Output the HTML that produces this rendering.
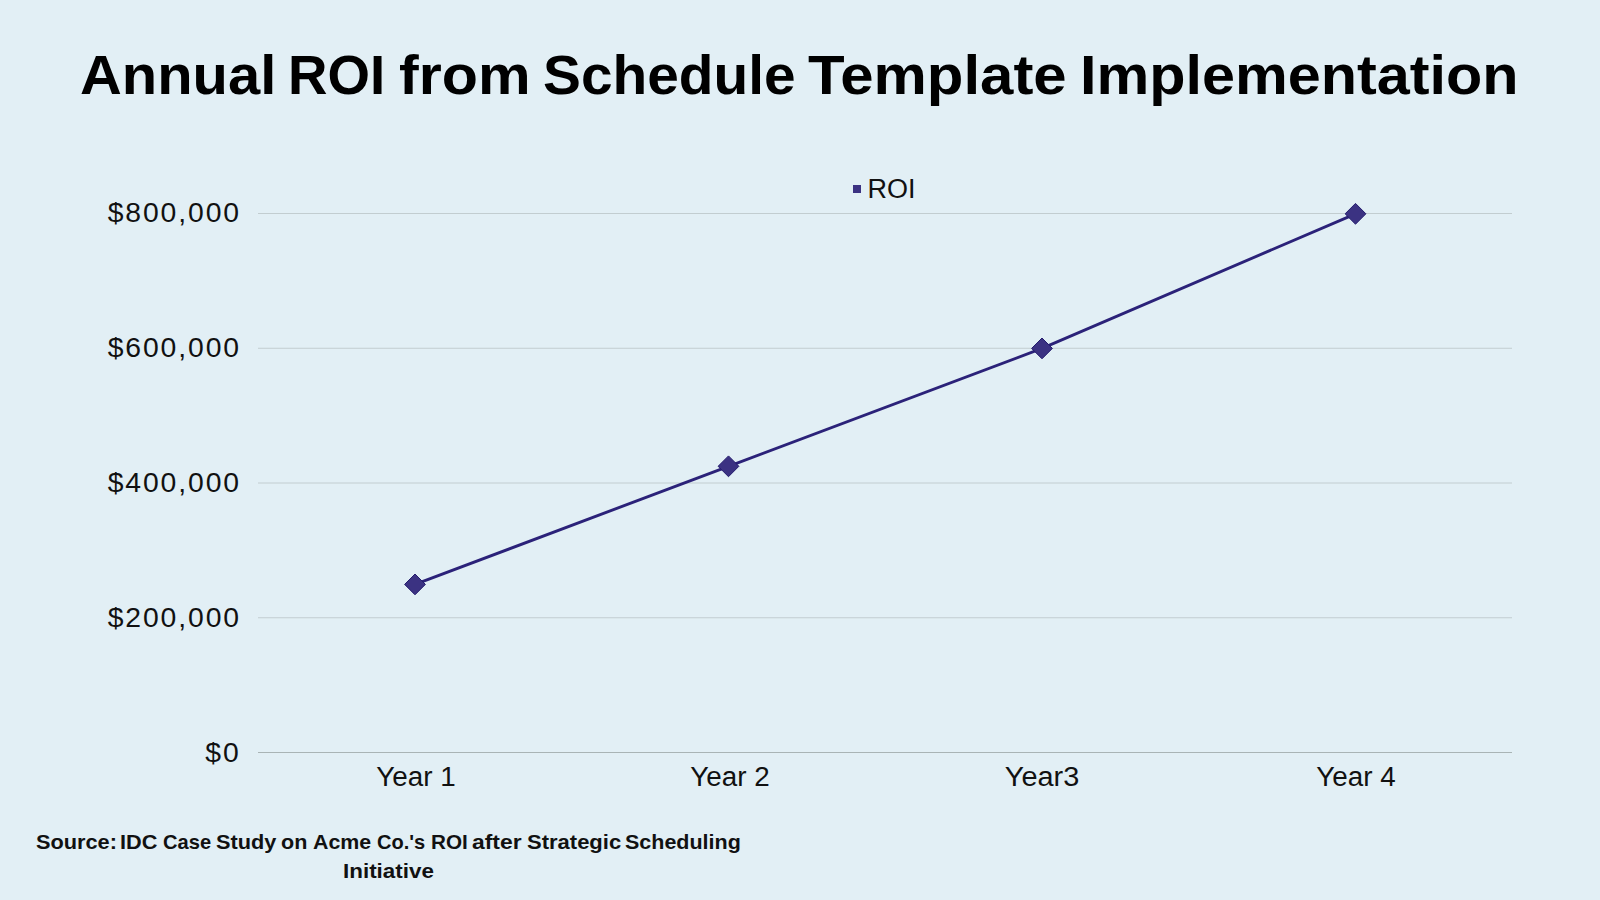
<!DOCTYPE html>
<html>
<head>
<meta charset="utf-8">
<style>
html,body{margin:0;padding:0;background:#E2EFF5;}
body{width:1600px;height:900px;overflow:hidden;background:#E2EFF5;position:relative;font-family:"Liberation Sans",sans-serif;color:#000;}
.t{position:absolute;white-space:nowrap;line-height:1;}
.tw{position:absolute;top:48px;font-size:55px;font-weight:bold;line-height:1;white-space:nowrap;transform-origin:0 0;color:#000;}
.yl{position:absolute;right:1359px;font-size:27px;line-height:1;transform-origin:100% 50%;transform:scaleX(1.05);letter-spacing:1.8px;color:#111;}
.xl{position:absolute;font-size:27px;line-height:1;width:200px;text-align:center;color:#111;transform:scaleX(1.03);}
#legend{left:867.5px;top:176px;font-size:27px;color:#111;transform:scaleX(1.0);transform-origin:0 0;}
.sw{position:absolute;font-size:20.5px;font-weight:bold;line-height:29px;white-space:nowrap;transform-origin:0 0;color:#111;top:827px;}
.sw2{top:856px;}
</style>
</head>
<body>
<div class="tw" style="left:80.39px;transform:scaleX(1.0528)">Annual</div>
<div class="tw" style="left:287.63px;transform:scaleX(0.9933)">ROI</div>
<div class="tw" style="left:398.92px;transform:scaleX(1.0763)">from</div>
<div class="tw" style="left:542.93px;transform:scaleX(1.0332)">Schedule</div>
<div class="tw" style="left:807.91px;transform:scaleX(1.0897)">Template</div>
<div class="tw" style="left:1079.68px;transform:scaleX(1.0789)">Implementation</div>

<svg width="1600" height="900" style="position:absolute;left:0;top:0">
  <g stroke="#C2CDD0" stroke-width="1">
    <line x1="258" y1="213.5" x2="1512" y2="213.5"/>
    <line x1="258" y1="348.25" x2="1512" y2="348.25"/>
    <line x1="258" y1="483" x2="1512" y2="483"/>
    <line x1="258" y1="617.75" x2="1512" y2="617.75"/>
  </g>
  <line x1="258" y1="752.5" x2="1512" y2="752.5" stroke="#A9B4B5" stroke-width="1"/>
  <polyline fill="none" stroke="#2B2279" stroke-width="2.9" stroke-linejoin="round" points="415,584.4 728.5,466.3 1042,348.4 1355.5,213.8"/>
  <g fill="#3B3282" stroke="#241C6E" stroke-width="1" stroke-linejoin="miter">
    <polygon points="415,574 425.4,584.4 415,594.8 404.6,584.4"/>
    <polygon points="728.5,455.9 738.9,466.3 728.5,476.7 718.1,466.3"/>
    <polygon points="1042,338 1052.4,348.4 1042,358.8 1031.6,348.4"/>
    <polygon points="1355.5,203.4 1365.9,213.8 1355.5,224.2 1345.1,213.8"/>
  </g>
  <rect x="853" y="185" width="8" height="8" fill="#3B3282"/>
</svg>

<div id="legend" class="t">ROI</div>

<div class="yl" style="top:200px">$800,000</div>
<div class="yl" style="top:335px">$600,000</div>
<div class="yl" style="top:470px">$400,000</div>
<div class="yl" style="top:605px">$200,000</div>
<div class="yl" style="top:740px">$0</div>

<div class="xl" style="left:316px;top:764px">Year 1</div>
<div class="xl" style="left:629.5px;top:764px">Year 2</div>
<div class="xl" style="left:942px;top:764px;transform:scaleX(1.07)">Year3</div>
<div class="xl" style="left:1256px;top:764px">Year 4</div>

<div class="sw" style="left:35.94px;transform:scaleX(1.0603)">Source:</div>
<div class="sw" style="left:119.54px;transform:scaleX(1.0588)">IDC</div>
<div class="sw" style="left:162.62px;transform:scaleX(0.9809)">Case</div>
<div class="sw" style="left:215.64px;transform:scaleX(1.0589)">Study</div>
<div class="sw" style="left:281.45px;transform:scaleX(1.0522)">on</div>
<div class="sw" style="left:312.71px;transform:scaleX(1.0417)">Acme</div>
<div class="sw" style="left:376.82px;transform:scaleX(0.9771)">Co.'s</div>
<div class="sw" style="left:430.69px;transform:scaleX(1.0088)">ROI</div>
<div class="sw" style="left:471.88px;transform:scaleX(1.1163)">after</div>
<div class="sw" style="left:526.93px;transform:scaleX(1.0733)">Strategic</div>
<div class="sw" style="left:624.75px;transform:scaleX(1.0481)">Scheduling</div>
<div class="sw sw2" style="left:342.81px;transform:scaleX(1.0927)">Initiative</div>
</body>
</html>
